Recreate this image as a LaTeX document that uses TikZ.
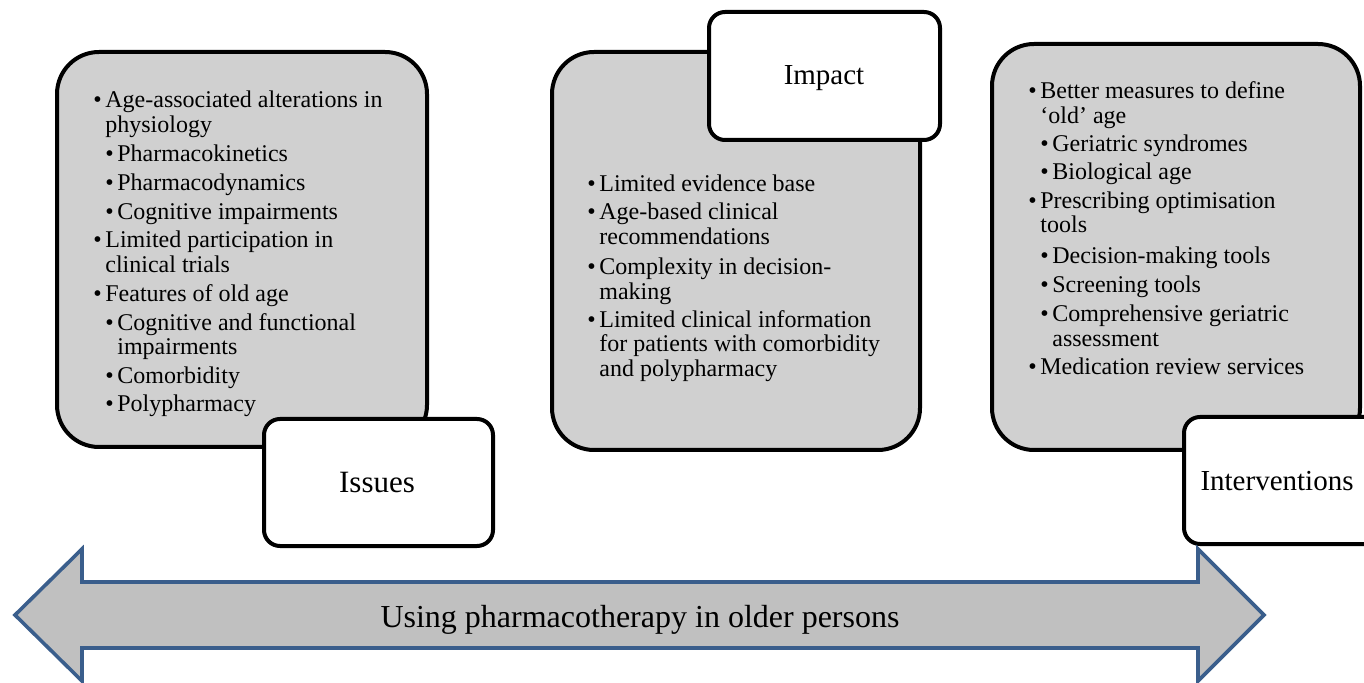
\documentclass[tikz,border=0pt]{standalone}
\usepackage{fontspec}
\setmainfont{Liberation Serif}
\definecolor{boxgray}{RGB}{208,208,208}
\definecolor{arrowfill}{RGB}{192,192,192}
\definecolor{arrowline}{RGB}{58,94,140}
\tikzset{
  graybox/.style={rectangle, draw=black, line width=2pt, fill=boxgray, rounded corners=21pt, inner sep=0pt},
  labelbox/.style={rectangle, draw=black, line width=2pt, fill=white, rounded corners=8pt, inner sep=0pt},
  txt/.style={inner sep=0pt, anchor=base west, font=\fontsize{12}{13}\selectfont},
  lbl/.style={inner sep=0pt, anchor=base},
  arrowshape/.style={draw=arrowline, fill=arrowfill, line width=1.8pt, line join=miter}
}
\newcommand\bitm[4]{\node[txt] (#1) at (#2,#3) {\makebox[6pt][l]{\textbullet}#4};}
\newcommand\contln[4]{\node[txt] (#1) at (#2,#3) {#4};}
\begin{document}
\begin{tikzpicture}[x=0.5pt,y=-0.5pt]
\path[use as bounding box] (0,0) rectangle (1364,683);
\clip (0,0) rectangle (1364,683);

% big gray boxes
\node[graybox, minimum width=185pt, minimum height=197.5pt] (issuesbox) at (242,249.5) {};
\node[graybox, minimum width=184pt, minimum height=199pt] (impactbox) at (736,251) {};
\node[graybox, minimum width=184pt, minimum height=203pt] (intbox) at (1176,247) {};

% label boxes
\node[labelbox, minimum width=114.5pt, minimum height=63.5pt] (issueslab) at (378.5,482.5) {};
\node[labelbox, minimum width=115.5pt, minimum height=64pt] (impactlab) at (824.5,76) {};
\node[labelbox, minimum width=108pt, minimum height=63.5pt] (intlab) at (1292,480.5) {};

\node[lbl, font=\fontsize{15.5}{18}\selectfont] (issuestxt) at (377,493) {Issues};
\node[lbl, font=\fontsize{14.5}{17}\selectfont] (impacttxt) at (824,85) {Impact};
\node[lbl, font=\fontsize{14.5}{17}\selectfont] (inttxt) at (1277,490) {Interventions};

% Issues text
\bitm{i1}{93}{108}{Age-associated alterations in}
\contln{i1b}{105}{133}{physiology}
\bitm{i2}{105}{162}{Pharmacokinetics}
\bitm{i3}{105}{191}{Pharmacodynamics}
\bitm{i4}{105}{220}{Cognitive impairments}
\bitm{i5}{93}{248}{Limited participation in}
\contln{i5b}{105}{273}{clinical trials}
\bitm{i6}{93}{302}{Features of old age}
\bitm{i7}{105}{331}{Cognitive and functional}
\contln{i7b}{117}{355}{impairments}
\bitm{i8}{105}{384}{Comorbidity}
\bitm{i9}{105}{412}{Polypharmacy}

% Impact text
\bitm{m1}{587}{192}{Limited evidence base}
\bitm{m2}{587}{220}{Age-based clinical}
\contln{m2b}{599}{245}{recommendations}
\bitm{m3}{587}{275}{Complexity in decision-}
\contln{m3b}{599}{300}{making}
\bitm{m4}{587}{328}{Limited clinical information}
\contln{m4b}{599}{352}{for patients with comorbidity}
\contln{m4c}{599}{377}{and polypharmacy}

% Interventions text
\bitm{n1}{1028}{99}{Better measures to define}
\contln{n1b}{1040}{124}{‘old’ age}
\bitm{n2}{1040}{152}{Geriatric syndromes}
\bitm{n3}{1040}{180}{Biological age}
\bitm{n4}{1028}{209}{Prescribing optimisation}
\contln{n4b}{1040}{233}{tools}
\bitm{n5}{1040}{264}{Decision-making tools}
\bitm{n6}{1040}{293}{Screening tools}
\bitm{n7}{1040}{322}{Comprehensive geriatric}
\contln{n7b}{1052}{347}{assessment}
\bitm{n8}{1028}{375}{Medication review services}

% double arrow
\draw[arrowshape] (15,615) -- (82,549) -- (82,582) -- (1198,582) -- (1198,549) -- (1264,615)
  -- (1198,681) -- (1198,648) -- (82,648) -- (82,681) -- cycle;
\node[lbl, font=\fontsize{16}{19}\selectfont] (arrowtxt) at (640,627) {Using pharmacotherapy in older persons};
\end{tikzpicture}
\end{document}
